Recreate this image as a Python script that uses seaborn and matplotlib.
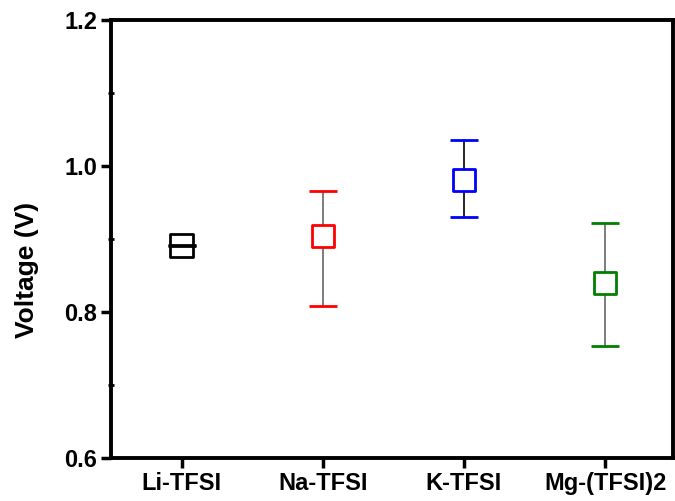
import numpy as np
import pandas as pd
import seaborn as sns
import matplotlib.pyplot as plt
from matplotlib.ticker import MultipleLocator

salts = ['Li-TFSI', 'Na-TFSI', 'K-TFSI', 'Mg-(TFSI)2']
voltage = [0.891, 0.904, 0.981, 0.840]
err_low = [0.8905, 0.808, 0.930, 0.754]
err_high = [0.8915, 0.966, 1.036, 0.922]
colors = ['black', 'red', 'blue', 'green']

df = pd.DataFrame({'salt': salts, 'voltage': voltage})

sns.set_style('ticks')
plt.rcParams['font.family'] = ['Liberation Sans', 'DejaVu Sans']
plt.rcParams['font.weight'] = 'bold'
plt.rcParams['text.color'] = 'black'
plt.rcParams['axes.labelcolor'] = 'black'
plt.rcParams['xtick.color'] = 'black'
plt.rcParams['ytick.color'] = 'black'

fig = plt.figure(figsize=(6.75, 5.01), dpi=100)
ax = fig.add_axes([0.1644, 0.0858, 0.8326, 0.8742])

x = np.arange(len(salts))
for i in range(len(salts)):
    lo = voltage[i] - err_low[i]
    hi = err_high[i] - voltage[i]
    bar_col = 'black' if i < 3 else '#666666'
    line, caps, bars = ax.errorbar(x[i], voltage[i], yerr=[[lo], [hi]], fmt='none',
                                   ecolor=bar_col, elinewidth=1.2, capsize=10,
                                   capthick=2, zorder=2)
    for c in caps:
        c.set_color(colors[i])
        c.set_markeredgecolor(colors[i])
        if i == 0:
            c.set_zorder(4)
    if i in (1, 3):
        for b in bars:
            b.set_color('#666666')

sns.scatterplot(data=df, x='salt', y='voltage', hue='salt', palette=colors,
                marker='s', s=260, linewidth=2.0,
                legend=False, zorder=3, ax=ax)
for coll in ax.collections:
    if coll.get_offsets().shape[0] == len(salts):
        coll.set_facecolor('white')
        coll.set_edgecolor(colors)

ax.set_xlim(-0.5, 3.48)
ax.set_ylim(0.6, 1.2)
ax.set_xticks(x)
ax.set_xticklabels(salts, fontsize=17, fontweight='bold')
ax.set_yticks([0.6, 0.8, 1.0, 1.2])
ax.set_yticklabels(['0.6', '0.8', '1.0', '1.2'], fontsize=17, fontweight='bold')
ax.yaxis.set_minor_locator(MultipleLocator(0.1))
ax.tick_params(axis='both', which='major', direction='out', length=7, width=2.5, pad=3)
ax.tick_params(axis='y', which='minor', direction='inout', length=4, width=2)
ax.set_xlabel('')
ax.set_ylabel('Voltage (V)', fontsize=19, fontweight='bold')
ax.yaxis.set_label_coords(-0.128, 0.43)
for sp in ax.spines.values():
    sp.set_visible(True)
    sp.set_linewidth(2.8)
    sp.set_color('black')

fig.savefig('out.png', dpi=100)
